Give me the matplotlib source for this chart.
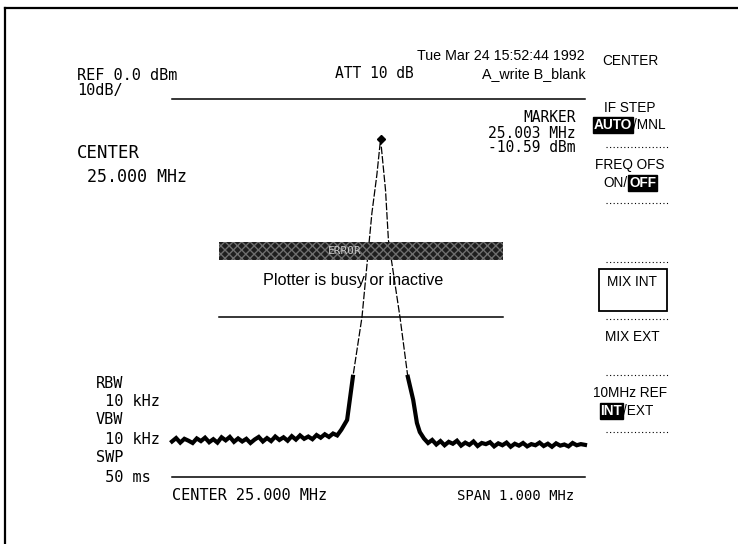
import matplotlib
matplotlib.use("Agg")
import matplotlib.pyplot as plt
from matplotlib.patches import Rectangle
from matplotlib import font_manager

# ---------------- data ----------------
ref_level_dbm = 0.0
db_per_div = 10
n_div = 10
center_mhz = 25.000
span_mhz = 1.000

marker_freq_label = "25.003 MHz"
marker_level_label = "-10.59 dBm"
marker_freq = 25.005
marker_level = -10.59

# left noise floor (MHz, dBm)
noise_left_f = [24.50, 24.51, 24.52, 24.53, 24.54, 24.55, 24.56, 24.57, 24.58, 24.59,
                24.60, 24.61, 24.62, 24.63, 24.64, 24.65, 24.66, 24.67, 24.68, 24.69,
                24.70, 24.71, 24.72, 24.73, 24.74, 24.75, 24.76, 24.77, 24.78, 24.79,
                24.80, 24.81, 24.82, 24.83, 24.84, 24.85, 24.86, 24.87, 24.88, 24.89,
                24.90]
noise_left_db = [-90.6, -89.7, -90.9, -89.9, -90.4, -91.0, -89.8, -90.5, -89.6, -90.8,
                 -90.0, -90.9, -89.5, -90.3, -89.4, -90.7, -89.8, -90.6, -89.9, -91.0,
                 -90.1, -89.4, -90.6, -89.7, -90.5, -89.3, -90.2, -89.5, -90.4, -89.2,
                 -90.1, -89.0, -89.9, -89.3, -90.0, -88.9, -89.6, -88.7, -89.4, -88.5,
                 -89.0]

# carrier skirts and peak
peak_f = [24.910, 24.924, 24.938, 24.960, 24.984, 24.996, 25.005,
          25.017, 25.024, 25.052, 25.071, 25.084, 25.093, 25.100]
peak_db = [-87.5, -84.9, -73.5, -57.7, -30.2, -20.1, -10.6,
           -24.1, -37.3, -57.7, -73.5, -79.6, -85.7, -88.1]

# right noise floor
noise_right_f = [25.11, 25.12, 25.13, 25.14, 25.15, 25.16, 25.17, 25.18, 25.19, 25.20,
                 25.21, 25.22, 25.23, 25.24, 25.25, 25.26, 25.27, 25.28, 25.29, 25.30,
                 25.31, 25.32, 25.33, 25.34, 25.35, 25.36, 25.37, 25.38, 25.39, 25.40,
                 25.41, 25.42, 25.43, 25.44, 25.45, 25.46, 25.47, 25.48, 25.49, 25.50]
noise_right_db = [-89.8, -91.0, -90.2, -91.4, -90.5, -91.6, -90.7, -91.2, -90.4, -91.7,
                  -90.9, -91.5, -90.6, -91.8, -91.0, -91.3, -90.8, -91.9, -91.1, -91.6,
                  -90.9, -92.0, -91.2, -91.7, -91.0, -91.9, -91.3, -91.6, -90.9, -91.8,
                  -91.2, -92.0, -91.1, -91.7, -91.4, -91.9, -91.0, -91.6, -91.3, -91.5]

# annotation texts
header_ref = "REF 0.0 dBm"
header_scale = "10dB/"
header_att = "ATT 10 dB"
header_time = "Tue Mar 24 15:52:44 1992"
header_trace = "A_write B_blank"
left_labels = ["CENTER", " 25.000 MHz"]
bw_labels = ["RBW", " 10 kHz", "VBW", " 10 kHz", "SWP", " 50 ms"]
footer_center = "CENTER 25.000 MHz"
footer_span = "SPAN 1.000 MHz"
dialog_title = "ERROR"
dialog_msg = "Plotter is busy or inactive"

# ---------------- fonts ----------------
_names = {f.name for f in font_manager.fontManager.ttflist}
if "Liberation Sans Narrow" in _names:
    narrow = ["Liberation Sans Narrow", "DejaVu Sans"]
    nscale = 1.0
else:
    narrow = ["Liberation Sans", "DejaVu Sans"]
    nscale = 0.82
mono = "DejaVu Sans Mono"

# ---------------- figure ----------------
W, H = 738, 544
fig = plt.figure(figsize=(W / 100, H / 100), dpi=100)
fig.patch.set_facecolor("white")

# trace axes (graticule area)
gx0, gx1, gy0, gy1 = 172, 585, 99, 477
ax = fig.add_axes([gx0 / W, 1 - gy1 / H, (gx1 - gx0) / W, (gy1 - gy0) / H])
ax.set_xlim(center_mhz - span_mhz / 2, center_mhz + span_mhz / 2)
ax.set_ylim(ref_level_dbm - db_per_div * n_div, ref_level_dbm)
ax.axis("off")
ax.patch.set_visible(False)

full_f = noise_left_f + peak_f + noise_right_f
full_db = noise_left_db + peak_db + noise_right_db
ax.plot(full_f, full_db, color="black", lw=0.9, ls=(0, (6, 1.5)), clip_on=False)
ax.plot(noise_left_f + peak_f[:3], noise_left_db + peak_db[:3], color="black", lw=3.0,
        solid_joinstyle="miter", clip_on=False)
ax.plot(peak_f[-4:] + noise_right_f, peak_db[-4:] + noise_right_db, color="black", lw=3.0,
        solid_joinstyle="miter", clip_on=False)
ax.plot([marker_freq], [marker_level], marker="D", ms=4, color="black", clip_on=False)
ax.axhline(ref_level_dbm, color="black", lw=1.1, clip_on=False)
ax.axhline(ref_level_dbm - db_per_div * n_div, color="black", lw=1.1, clip_on=False)

# overlay in pixel coordinates
ov = fig.add_axes([0, 0, 1, 1], zorder=5)
ov.set_xlim(0, W)
ov.set_ylim(H, 0)
ov.axis("off")
ov.patch.set_visible(False)

# page border (top and left only)
ov.plot([5, W], [8, 8], color="black", lw=1.6)
ov.plot([5, 5], [8, H], color="black", lw=1.6)

ov.text(77, 75, header_ref, family=mono, fontsize=11, va="center", ha="left")
ov.text(77, 91, header_scale, family=mono, fontsize=11, va="center", ha="left")
ov.text(335, 74, header_att, family=mono, fontsize=10.5, va="center", ha="left")
ov.text(585, 56, header_time, family=narrow, fontsize=12.5 * nscale, va="center", ha="right")
ov.text(586, 74, header_trace, family=narrow, fontsize=12.5 * nscale, va="center", ha="right")

ov.text(576, 118, "MARKER", family=mono, fontsize=10.5, va="center", ha="right")
ov.text(576, 133, marker_freq_label, family=mono, fontsize=10.5, va="center", ha="right")
ov.text(576, 148, marker_level_label, family=mono, fontsize=10.5, va="center", ha="right")

ov.text(77, 153, left_labels[0], family=mono, fontsize=12.5, va="center", ha="left")
ov.text(77, 177, left_labels[1], family=mono, fontsize=12, va="center", ha="left")

bw_y = [383, 402, 420, 440, 457, 477]
for lab, yy in zip(bw_labels, bw_y):
    ov.text(96, yy, lab, family=mono, fontsize=11, va="center", ha="left")

ov.text(172, 496, footer_center, family=mono, fontsize=11, va="center", ha="left")
ov.text(457, 496, footer_span, family=mono, fontsize=10, va="center", ha="left")

# dialog
ov.add_patch(Rectangle((219, 242), 284, 18, facecolor="#1e1e1e", edgecolor="#6e6e6e",
                       hatch="xxxx", lw=0))
ov.text(345, 251, dialog_title, family=mono, fontsize=8, color="#c8c8c8", va="center",
        ha="center")
ov.text(353, 281, dialog_msg, family=narrow, fontsize=14.2 * nscale, va="center", ha="center")
ov.plot([219, 503], [317, 317], color="black", lw=1.1)

# right soft-key menu
mfs = 12 * nscale
mx = 630


def dotted(y):
    ov.plot([606, 669], [y, y], color="black", lw=0.8, ls=(0, (1, 2.2)))


ov.text(mx, 61, "CENTER", family=narrow, fontsize=mfs, va="center", ha="center")
ov.text(mx, 108, "IF STEP", family=narrow, fontsize=mfs, va="center", ha="center")
ov.text(632, 125, "AUTO", family=narrow, fontsize=mfs, va="center", ha="right",
        color="white", fontweight="bold",
        bbox=dict(boxstyle="square,pad=0.05", fc="black", ec="black"))
ov.text(633, 125, "/MNL", family=narrow, fontsize=mfs, va="center", ha="left")
dotted(147)
ov.text(mx, 165, "FREQ OFS", family=narrow, fontsize=mfs, va="center", ha="center")
ov.text(628, 183, "ON/", family=narrow, fontsize=mfs, va="center", ha="right")
ov.text(629, 183, "OFF", family=narrow, fontsize=mfs, va="center", ha="left",
        color="white", fontweight="bold",
        bbox=dict(boxstyle="square,pad=0.05", fc="black", ec="black"))
dotted(203)
dotted(262)
ov.add_patch(Rectangle((599, 269), 68, 42, facecolor="none", edgecolor="black", lw=1.3))
ov.text(632, 282, "MIX INT", family=narrow, fontsize=mfs, va="center", ha="center")
dotted(319)
ov.text(632, 337, "MIX EXT", family=narrow, fontsize=mfs, va="center", ha="center")
dotted(375)
ov.text(mx, 393, "10MHz REF", family=narrow, fontsize=mfs, va="center", ha="center")
ov.text(622, 411, "INT", family=narrow, fontsize=mfs, va="center", ha="right",
        color="white", fontweight="bold",
        bbox=dict(boxstyle="square,pad=0.05", fc="black", ec="black"))
ov.text(623, 411, "/EXT", family=narrow, fontsize=mfs, va="center", ha="left")
dotted(432)

fig.savefig("out.png", dpi=100, facecolor="white")
